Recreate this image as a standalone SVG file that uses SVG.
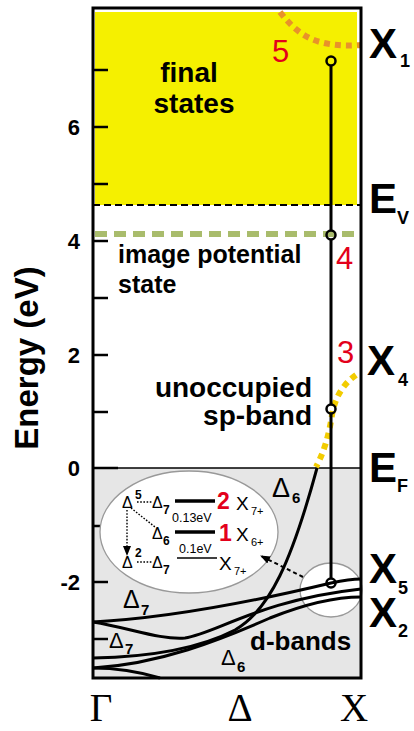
<svg xmlns="http://www.w3.org/2000/svg" width="414" height="731" viewBox="0 0 414 731">
<defs>
<style>
.b{font-family:"Liberation Sans",Arial,sans-serif;font-weight:bold;fill:#000}
.r{font-family:"Liberation Sans",Arial,sans-serif;fill:#000}
.s{font-family:"Liberation Serif","Times New Roman",serif;fill:#000}
.red{fill:#E3001B}
.band{fill:none;stroke:#000;stroke-width:3}
.tick{stroke:#000;stroke-width:2.5}
.dot{stroke:#000;stroke-width:1.4;stroke-dasharray:1.6 1.6;fill:none}
.cir{fill:none;stroke:#000;stroke-width:2.5}
</style>
<marker id="ah" viewBox="0 0 10 10" refX="9" refY="5" markerWidth="10" markerHeight="10" markerUnits="userSpaceOnUse" orient="auto">
<path d="M0,1 L10,5 L0,9 z" fill="#000"/>
</marker>
</defs>
<rect width="414" height="731" fill="#fff"/>
<g id="final-states-region">
<rect x="95" y="12" width="262" height="193" fill="#F5F000"/>
</g>
<g id="occupied-region">
<rect x="93" y="468" width="268" height="210" fill="#E6E6E6"/>
</g>
<g id="levels">
<line x1="93" y1="205" x2="361" y2="205" stroke="#000" stroke-width="2" stroke-dasharray="7 4"/>
<line x1="95" y1="234" x2="361" y2="234" stroke="#A9BC6C" stroke-width="6" stroke-dasharray="12 7"/>
<line x1="93" y1="468" x2="361" y2="468" stroke="#000" stroke-width="1.5"/>
</g>
<g id="ticks">
<line class="tick" x1="93" y1="70" x2="108" y2="70"/>
<line class="tick" x1="93" y1="127" x2="108" y2="127"/>
<line class="tick" x1="93" y1="184" x2="108" y2="184"/>
<line class="tick" x1="93" y1="241" x2="108" y2="241"/>
<line class="tick" x1="93" y1="298" x2="108" y2="298"/>
<line class="tick" x1="93" y1="355" x2="108" y2="355"/>
<line class="tick" x1="93" y1="412" x2="108" y2="412"/>
<line class="tick" x1="93" y1="468" x2="118" y2="468"/>
<line class="tick" x1="93" y1="526" x2="108" y2="526"/>
<line class="tick" x1="93" y1="582" x2="108" y2="582"/>
<line class="tick" x1="93" y1="639" x2="108" y2="639"/>
</g>
<g id="axis-labels">
<text class="b" x="80" y="135" font-size="22" text-anchor="end">6</text>
<text class="b" x="80" y="249" font-size="22" text-anchor="end">4</text>
<text class="b" x="80" y="363" font-size="22" text-anchor="end">2</text>
<text class="b" x="80" y="476" font-size="22" text-anchor="end">0</text>
<text class="b" x="80" y="590" font-size="22" text-anchor="end">-2</text>
<text class="b" x="38" y="358" font-size="33" text-anchor="middle" transform="rotate(-90 38 358)">Energy (eV)</text>
<text class="s" x="101" y="721" font-size="39" text-anchor="middle">Γ</text>
<text class="s" x="240" y="721" font-size="39" text-anchor="middle">Δ</text>
<text class="s" x="354" y="721" font-size="39" text-anchor="middle">X</text>
</g>
<g id="inset">
<ellipse cx="189" cy="532" rx="89" ry="61" fill="#fff" stroke="#999" stroke-width="1.3"/>
<text class="r" x="122" y="508" font-size="16">Δ</text>
<text class="b" x="135" y="499" font-size="12">5</text>
<line class="dot" x1="137" y1="502" x2="153" y2="502"/>
<text class="r" x="152" y="508" font-size="16">Δ</text>
<text class="b" x="163" y="514" font-size="12">7</text>
<line x1="175" y1="501" x2="215" y2="501" stroke="#000" stroke-width="3.5"/>
<text class="b red" x="217" y="509" font-size="23">2</text>
<text class="r" x="236" y="510" font-size="19">X</text>
<text class="r" x="251" y="515" font-size="11">7+</text>
<text class="r" x="172" y="522" font-size="12.5">0.13eV</text>
<line class="dot" x1="131" y1="508" x2="155" y2="527"/>
<text class="r" x="152" y="539" font-size="16">Δ</text>
<text class="b" x="163" y="545" font-size="12">6</text>
<line x1="175" y1="532" x2="215" y2="532" stroke="#000" stroke-width="3.5"/>
<text class="b red" x="219" y="541" font-size="23">1</text>
<text class="r" x="236" y="541" font-size="19">X</text>
<text class="r" x="251" y="546" font-size="11">6+</text>
<text class="r" x="179" y="553" font-size="12.5">0.1eV</text>
<line class="dot" x1="127" y1="510" x2="127" y2="547"/>
<path d="M123,546 L131,546 L127,556 z" fill="#000"/>
<text class="r" x="122" y="568" font-size="16">Δ</text>
<text class="b" x="135" y="557" font-size="12">2</text>
<line class="dot" x1="137" y1="562" x2="153" y2="562"/>
<text class="r" x="152" y="568" font-size="16">Δ</text>
<text class="b" x="163" y="574" font-size="12">7</text>
<line x1="177" y1="558" x2="217" y2="558" stroke="#000" stroke-width="1.5"/>
<text class="r" x="219" y="570" font-size="19">X</text>
<text class="r" x="234" y="575" font-size="11">7+</text>
</g>
<g id="x-point-circle">
<ellipse cx="331" cy="590" rx="31" ry="27" fill="#fff" stroke="#999" stroke-width="1.3"/>
</g>
<g id="connectors">
<path class="band" d="M93,622 C170,618 260,600 331,583 C345,580 355,579 361,579"/>
<path class="band" d="M93,622 C130,628 160,640 185,638 C215,634 260,600 361,589"/>
<path class="band" d="M93,658 C150,657 200,648 235,630 C270,610 292,560 317,468"/>
<path class="band" d="M93,668 C160,664 220,640 270,618 C310,602 340,597 361,597"/>
<path class="band" d="M93,668 C120,668 140,672 160,678"/>
<path d="M280,12 C292,28 305,38 320,42 C335,46 350,46 361,45" fill="none" stroke="#E8922A" stroke-width="6" stroke-dasharray="6 5"/>
<path d="M356,375 C342,385 335,398 332,415 C329,435 324,452 316,467" fill="none" stroke="#F2CC00" stroke-width="6" stroke-dasharray="6 5"/>
<line x1="331" y1="65" x2="331" y2="230" stroke="#000" stroke-width="3"/>
<line x1="331" y1="239" x2="331" y2="404" stroke="#000" stroke-width="3"/>
<line x1="331" y1="414" x2="331" y2="578" stroke="#000" stroke-width="3"/>
<circle class="cir" cx="331" cy="61" r="4.5"/>
<circle class="cir" cx="331" cy="235" r="4.5"/>
<circle class="cir" cx="331" cy="409" r="4.5"/>
<circle class="cir" cx="331" cy="583" r="4.5"/>
<line x1="303" y1="577" x2="261" y2="556" stroke="#000" stroke-width="2" stroke-dasharray="4 3" marker-end="url(#ah)"/>
</g>
<g id="band-labels">
<text class="r" x="272" y="497" font-size="27">Δ</text>
<text class="b" x="292" y="503" font-size="15">6</text>
<text class="r" x="123" y="608" font-size="25">Δ</text>
<text class="b" x="141" y="615" font-size="15">7</text>
<text class="r" x="109" y="648" font-size="22">Δ</text>
<text class="b" x="125" y="654" font-size="15">7</text>
<text class="r" x="221" y="665" font-size="22">Δ</text>
<text class="b" x="237" y="672" font-size="15">6</text>
<text class="b" x="250" y="650" font-size="26">d-bands</text>
</g>
<g id="text-labels">
<text class="b" x="189" y="82" font-size="28" text-anchor="middle">final</text>
<text class="b" x="194" y="113" font-size="28" text-anchor="middle">states</text>
<text class="b" x="118" y="263" font-size="25">image potential</text>
<text class="b" x="118" y="293" font-size="25">state</text>
<text class="b" x="312" y="397" font-size="28" text-anchor="end">unoccupied</text>
<text class="b" x="312" y="425" font-size="28" text-anchor="end">sp-band</text>
<text class="r red" x="272" y="62" font-size="31">5</text>
<text class="r red" x="336" y="269" font-size="31">4</text>
<text class="r red" x="337" y="363" font-size="31">3</text>
</g>
<g id="frame">
<rect x="93" y="8" width="268" height="670" fill="none" stroke="#000" stroke-width="3"/>
</g>
<g id="point-labels">
<text class="b" x="369" y="58" font-size="42">X</text>
<text class="b" x="400" y="67" font-size="18">1</text>
<text class="b" x="369" y="213" font-size="42">E</text>
<text class="b" x="397" y="224" font-size="18">V</text>
<text class="b" x="367" y="375" font-size="42">X</text>
<text class="b" x="398" y="386" font-size="18">4</text>
<text class="b" x="369" y="482" font-size="42">E</text>
<text class="b" x="397" y="492" font-size="18">F</text>
<text class="b" x="369" y="583" font-size="42">X</text>
<text class="b" x="398" y="594" font-size="18">5</text>
<text class="b" x="369" y="627" font-size="42">X</text>
<text class="b" x="398" y="637" font-size="18">2</text>
</g>
</svg>
